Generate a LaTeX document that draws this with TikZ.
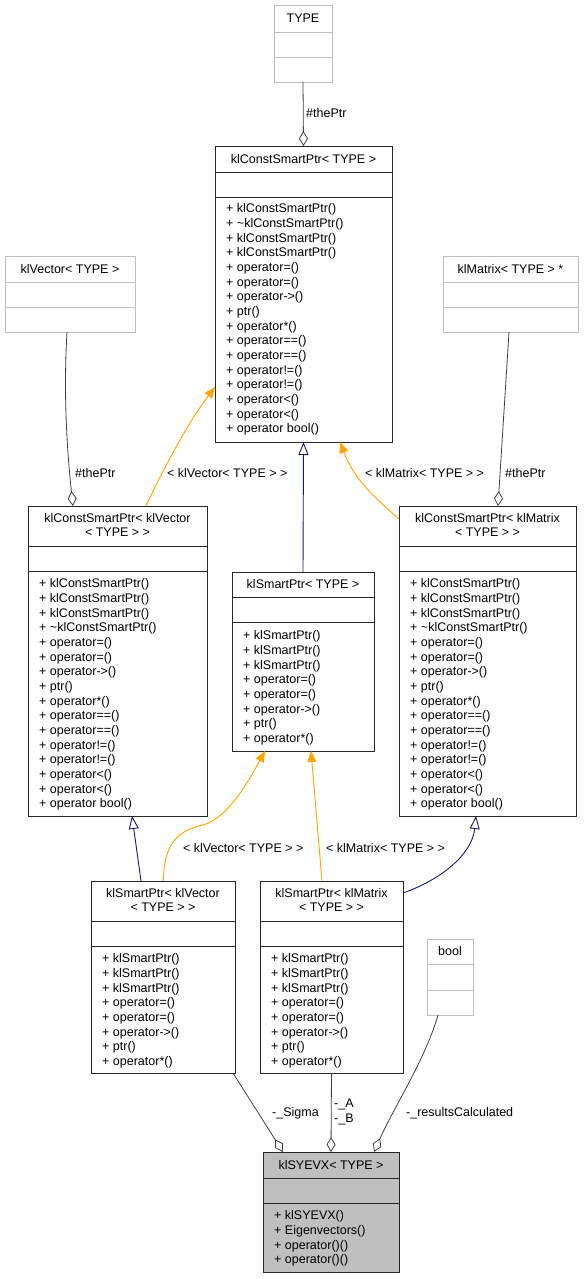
\documentclass[tikz,border=0pt]{standalone}
\usepackage{fontspec}
\setmainfont{Liberation Sans}
\usetikzlibrary{arrows.meta,calc}
\definecolor{edgegray}{HTML}{404040}
\definecolor{ghostgray}{HTML}{BFBFBF}
\definecolor{inhblue}{HTML}{191970}
\definecolor{tmplorange}{HTML}{FFA500}
\definecolor{mainfill}{HTML}{BFBFBF}
\newcommand{\umlbox}[8]{%
  \node[#2, minimum width=#5pt-#3pt, minimum height=#6pt-#4pt] (#1) at (#3,#4) {};
  \draw[#2div] (#3,#7) -- (#5,#7) (#3,#8) -- (#5,#8);
}
\begin{document}
\begin{tikzpicture}[x=1pt,y=-1pt,
  cls/.style={draw=black!85, line width=0.9pt, fill=white, anchor=north west, inner sep=0pt, outer sep=0pt},
  clsdiv/.style={draw=black!85, line width=0.9pt},
  mainc/.style={cls, fill=mainfill},
  maincdiv/.style={clsdiv},
  ghost/.style={draw=ghostgray, line width=0.9pt, fill=white, anchor=north west, inner sep=0pt, outer sep=0pt},
  ghostdiv/.style={draw=ghostgray, line width=0.9pt},
  txt/.style={font=\fontsize{12.5}{14.67}\selectfont, inner sep=0pt, text=black},
  ttl/.style={txt, align=center},
  mem/.style={txt, anchor=north west, align=left},
  lbl/.style={txt, anchor=west},
  agg/.style={draw=edgegray, line width=0.8pt, -{Diamond[open, length=15pt, width=9pt, line width=0.8pt]}},
  inh/.style={draw=inhblue, line width=0.9pt, -{Triangle[open, length=13pt, width=10pt, line width=0.9pt]}},
  tmpl/.style={draw=tmplorange, line width=0.9pt, -{Triangle[length=11pt, width=9pt]}},
]
\useasboundingbox (0,0) rectangle (585,1279);

% ---- boxes ----
\umlbox{type}{ghost}{274}{5}{332}{82}{32}{57}
\node[ttl] (typeT) at (303,18.5) {TYPE};

\umlbox{cst}{cls}{215}{146}{392}{442}{172}{197}
\node[ttl] (cstT) at (303.5,159) {klConstSmartPtr< TYPE >};
\node[mem] (cstM) at (226,203.4) {+ klConstSmartPtr()\\+ \textasciitilde klConstSmartPtr()\\+ klConstSmartPtr()\\+ klConstSmartPtr()\\+ operator=()\\+ operator=()\\+ operator->()\\+ ptr()\\+ operator*()\\+ operator==()\\+ operator==()\\+ operator!=()\\+ operator!=()\\+ operator<()\\+ operator<()\\+ operator bool()};

\umlbox{vec}{ghost}{5}{256}{135}{332}{282}{307}
\node[ttl] (vecT) at (70,269) {klVector< TYPE >};

\umlbox{mat}{ghost}{443}{256}{578}{332}{282}{307}
\node[ttl] (matT) at (510.5,269) {klMatrix< TYPE > *};

\umlbox{cvec}{cls}{28}{506}{207}{816}{546}{571}
\node[ttl] (cvecT) at (117.5,525) {klConstSmartPtr< klVector\\< TYPE > >};
\node[mem] (cvecM) at (39,578.4) {+ klConstSmartPtr()\\+ klConstSmartPtr()\\+ klConstSmartPtr()\\+ \textasciitilde klConstSmartPtr()\\+ operator=()\\+ operator=()\\+ operator->()\\+ ptr()\\+ operator*()\\+ operator==()\\+ operator==()\\+ operator!=()\\+ operator!=()\\+ operator<()\\+ operator<()\\+ operator bool()};

\umlbox{cmat}{cls}{399}{506}{576}{816}{546}{571}
\node[ttl] (cmatT) at (487.5,525) {klConstSmartPtr< klMatrix\\< TYPE > >};
\node[mem] (cmatM) at (410,578.4) {+ klConstSmartPtr()\\+ klConstSmartPtr()\\+ klConstSmartPtr()\\+ \textasciitilde klConstSmartPtr()\\+ operator=()\\+ operator=()\\+ operator->()\\+ ptr()\\+ operator*()\\+ operator==()\\+ operator==()\\+ operator!=()\\+ operator!=()\\+ operator<()\\+ operator<()\\+ operator bool()};

\umlbox{sp}{cls}{232}{572}{374}{751}{597}{622}
\node[ttl] (spT) at (303,584.5) {klSmartPtr< TYPE >};
\node[mem] (spM) at (243,630.4) {+ klSmartPtr()\\+ klSmartPtr()\\+ klSmartPtr()\\+ operator=()\\+ operator=()\\+ operator->()\\+ ptr()\\+ operator*()};

\umlbox{spvec}{cls}{91}{881}{235}{1073}{921}{946}
\node[ttl] (spvecT) at (163,900) {klSmartPtr< klVector\\< TYPE > >};
\node[mem] (spvecM) at (102,953.4) {+ klSmartPtr()\\+ klSmartPtr()\\+ klSmartPtr()\\+ operator=()\\+ operator=()\\+ operator->()\\+ ptr()\\+ operator*()};

\umlbox{spmat}{cls}{260}{881}{403}{1073}{921}{946}
\node[ttl] (spmatT) at (331.5,900) {klSmartPtr< klMatrix\\< TYPE > >};
\node[mem] (spmatM) at (271,953.4) {+ klSmartPtr()\\+ klSmartPtr()\\+ klSmartPtr()\\+ operator=()\\+ operator=()\\+ operator->()\\+ ptr()\\+ operator*()};

\umlbox{bool}{ghost}{427}{939}{473}{1015}{964}{990}
\node[ttl] (boolT) at (450,951.5) {bool};

\umlbox{syevx}{mainc}{263}{1152}{399}{1272}{1178}{1203}
\node[ttl] (syevxT) at (331,1165) {klSYEVX< TYPE >};
\node[mem] (syevxM) at (274,1210.4) {+ klSYEVX()\\+ Eigenvectors()\\+ operator()()\\+ operator()()};

% ---- aggregation edges ----
\draw[agg] (type.south) -- (cst.north);
\node[lbl] (l1) at (306,113) {\#thePtr};

\draw[agg] ([xshift=-3pt]vec.south) .. controls (63,400) and (68,460) .. ([xshift=45pt]cvec.north west);
\node[lbl] (l2) at (75,473) {\#thePtr};

\draw[agg] ([xshift=-1.5pt]mat.south) -- ([xshift=99pt]cmat.north west);
\node[lbl] (l3) at (505,473) {\#thePtr};

% ---- template instantiation edges ----
\draw[tmpl] ([xshift=118pt]cvec.north west) .. controls (165,465) and (190,420) .. ([yshift=55pt]cst.south west);
\node[lbl] (l4) at (167,473) {< klVector< TYPE > >};

\draw[tmpl] ([yshift=-13pt]cmat.north west) .. controls (380,502) and (355,482) .. ([xshift=125pt]cst.south west);
\node[lbl] (l5) at (365,473) {< klMatrix< TYPE > >};

\draw[tmpl] ([xshift=72pt]spvec.north west) .. controls (165,848) and (172,832) .. (203,825) .. controls (228,818) and (248,782) .. ([xshift=33pt]sp.south west);
\node[lbl] (l6) at (183,848) {< klVector< TYPE > >};

\draw[tmpl] ([xshift=62pt]spmat.north west) -- ([xshift=79pt]sp.south west);
\node[lbl] (l7) at (326,848) {< klMatrix< TYPE > >};

% ---- inheritance edges ----
\draw[inh] (sp.north) -- (cst.south);
\draw[inh] ([xshift=50pt]spvec.north west) -- ([xshift=104pt]cvec.south west);
\draw[inh] ([yshift=-12pt]spmat.north east) .. controls (440,880) and (472,855) .. ([xshift=77pt]cmat.south west);

% ---- members of klSYEVX ----
\draw[agg] ([xshift=-2pt]spvec.south east) -- ([xshift=20pt]syevx.north west);
\node[lbl] (l8) at (272,1113) {-\_Sigma};

\draw[agg] (spmat.south) -- (syevx.north);
\node[txt, anchor=west, align=left] (l9) at (334,1112) {-\_A\\-\_B};

\draw[agg] ([xshift=-12pt]bool.south) .. controls (425,1060) and (395,1105) .. ([xshift=-25pt]syevx.north east);
\node[lbl] (l10) at (406,1113) {-\_resultsCalculated};
\end{tikzpicture}
\end{document}
